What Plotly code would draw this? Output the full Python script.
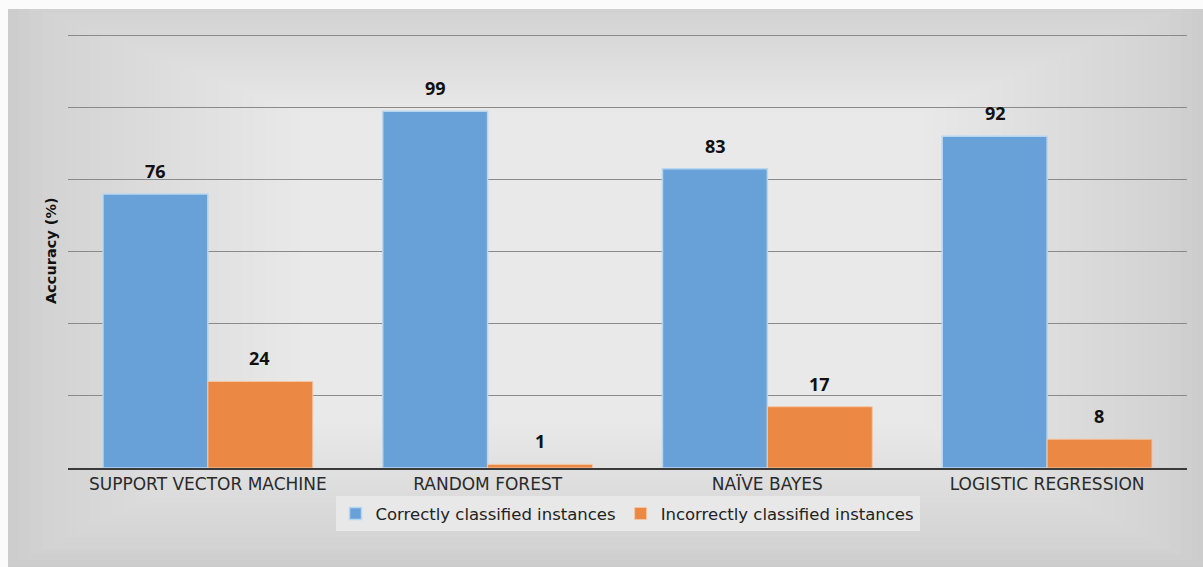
import plotly.graph_objects as go

# Classifier accuracy on the test set, in percent
models = ["SUPPORT VECTOR MACHINE", "RANDOM FOREST", "NAÏVE BAYES", "LOGISTIC REGRESSION"]
correct = [76, 99, 83, 92]
incorrect = [24, 1, 17, 8]
series_names = ["Correctly classified instances", "Incorrectly classified instances"]

BLUE = "#67a1d8"
ORANGE = "#ea8844"
FONT = "Open Sans"
WIDE = "DejaVu Sans"

fig = go.Figure()
fig.add_trace(go.Bar(
    x=models, y=correct, name=series_names[0],
    marker=dict(color=BLUE, line=dict(color="#b9d6f0", width=1.5)),
))
fig.add_trace(go.Bar(
    x=models, y=incorrect, name=series_names[1],
    marker=dict(color=ORANGE, line=dict(color="#f4c6a3", width=1)),
))

# Value labels above each bar, offset to the bar's slot within its group
annotations = []
for vals, dx in ((correct, -52), (incorrect, 52)):
    for m, v in zip(models, vals):
        annotations.append(dict(
            x=m, y=v, xref="x", yref="y", xshift=dx, yshift=23,
            text=f"<b>{v}</b>", showarrow=False, yanchor="middle",
            font=dict(family=FONT, size=18, color="#111111"),
        ))
annotations.append(dict(
    x=-17 / 1119, y=(468 - 251) / 456, xref="paper", yref="paper",
    text="<b>Accuracy (%)</b>", textangle=-90, showarrow=False,
    xanchor="center", yanchor="middle",
    font=dict(family=WIDE, size=14.5, color="#111111"),
))

# Soft vignette backdrop: nested lighter rectangles toward the centre
shapes = []
steps = 40
for i in range(steps):
    f = i / steps
    shapes.append(dict(
        type="rect", xref="paper", yref="paper", layer="below",
        x0=-0.055 + 0.42 * f, x1=1.015 - 0.40 * f,
        y0=-0.215 + 0.50 * f, y1=1.03 - 0.40 * f,
        line=dict(width=0), fillcolor="rgba(255,255,255,0.045)",
    ))
# white margin strips along the top and left edges
shapes.append(dict(type="rect", xref="paper", yref="paper", layer="below",
                   x0=-0.07, x1=1.02, y0=(468 - 9) / 456, y1=1.1,
                   line=dict(width=0), fillcolor="#fbfbfb"))
shapes.append(dict(type="rect", xref="paper", yref="paper", layer="below",
                   x0=-0.07, x1=-60 / 1119, y0=-0.3, y1=1.1,
                   line=dict(width=0), fillcolor="#fbfbfb"))

fig.update_layout(
    width=1203, height=567,
    margin=dict(l=68, r=16, t=12, b=99),
    paper_bgcolor="#cbcbcb",
    plot_bgcolor="rgba(0,0,0,0)",
    font=dict(family=WIDE, color="#222222"),
    barmode="group", bargap=0.25, bargroupgap=0.0,
    shapes=shapes,
    annotations=annotations,
    showlegend=True,
    legend=dict(
        orientation="h", x=0.5, xanchor="center", y=-0.062, yanchor="top",
        bgcolor="#e8e8e8", font=dict(family=WIDE, size=16.5, color="#222222"),
        traceorder="normal", itemwidth=30,
    ),
    xaxis=dict(
        showgrid=False, showline=True, linecolor="#3a3a3a", linewidth=2,
        ticks="", tickfont=dict(family=WIDE, size=17, color="#2a2a2a"),
    ),
    yaxis=dict(
        range=[0, 126.5], dtick=20, showticklabels=False,
        gridcolor="#8a8a8a", gridwidth=1, zeroline=False,
    ),
)

fig.write_html("out.html")
